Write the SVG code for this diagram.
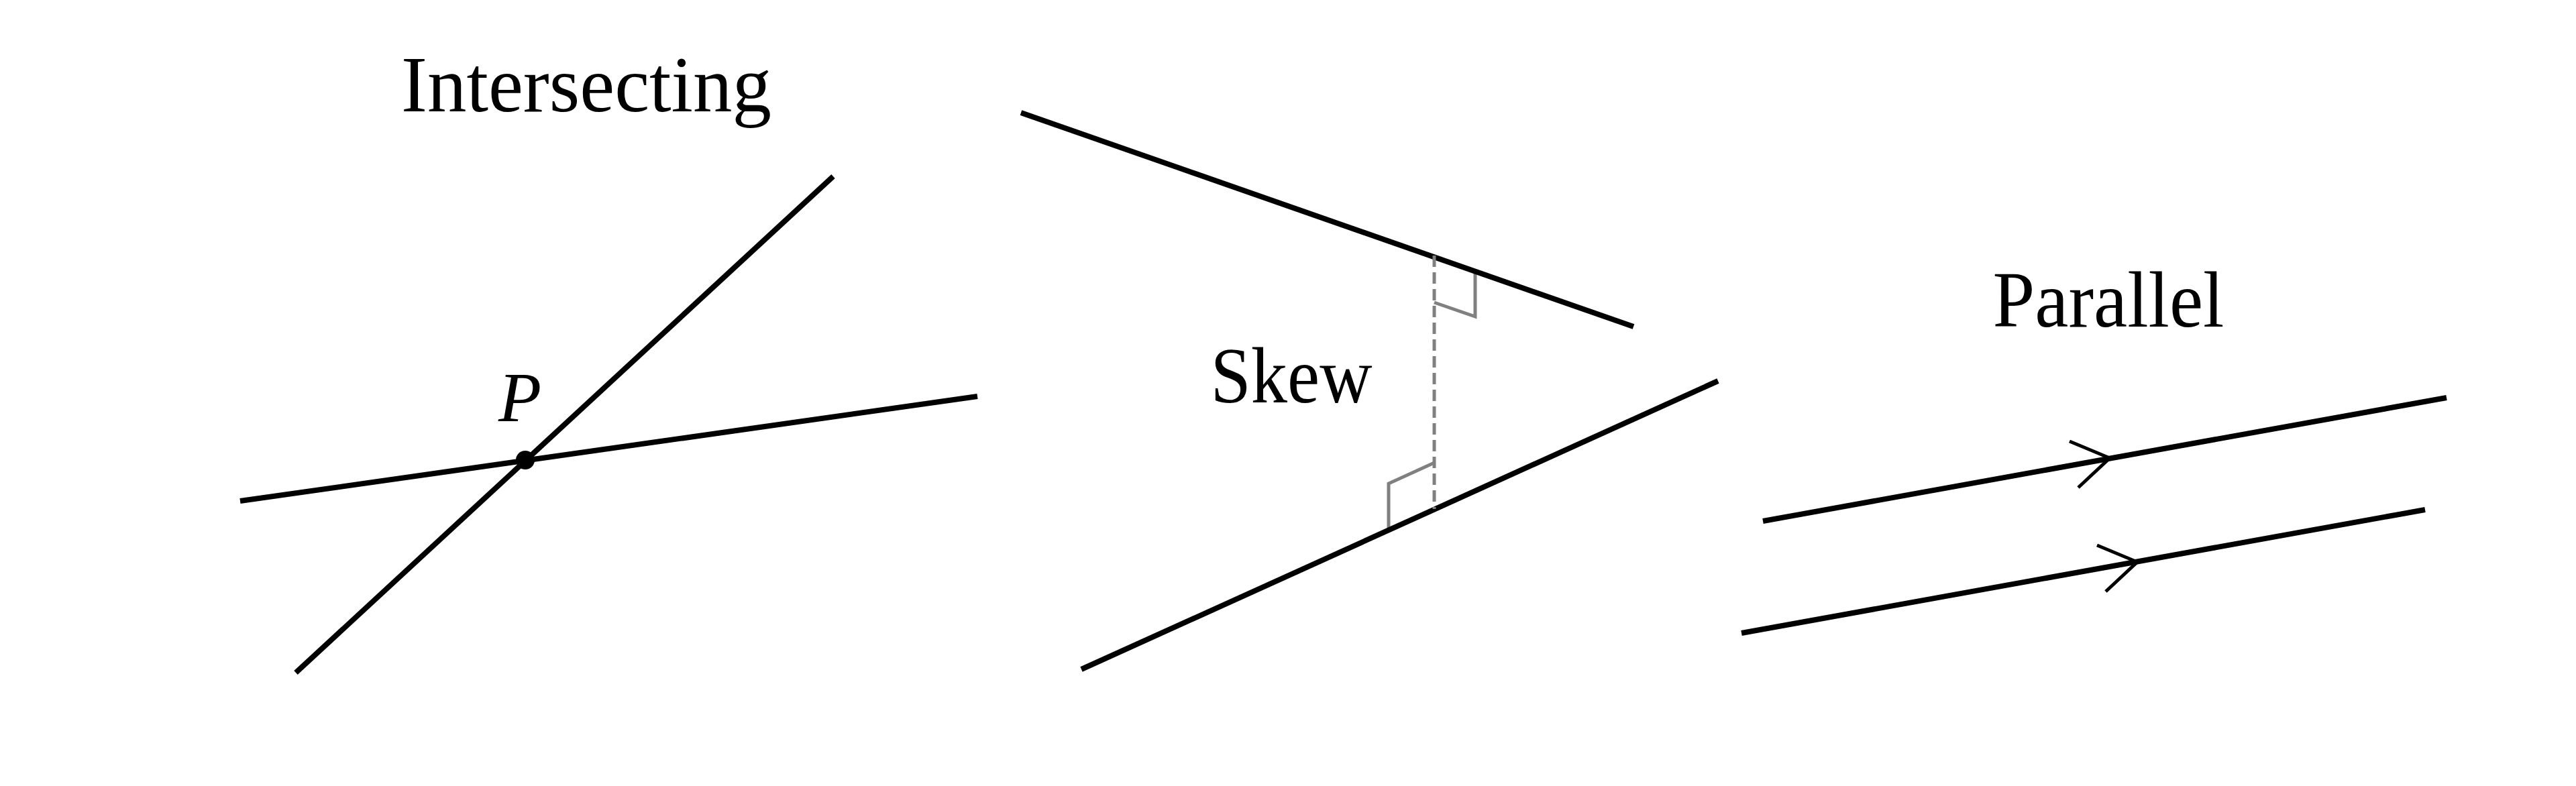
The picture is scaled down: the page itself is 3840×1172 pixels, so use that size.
<svg xmlns="http://www.w3.org/2000/svg" xmlns:xlink="http://www.w3.org/1999/xlink" width="3840" height="1172" viewBox="0 0 3840 1172">
<style>
.ln{stroke:#000;stroke-width:8;fill:none}
.gr{stroke:#808080;stroke-width:5;fill:none}
.dash{stroke:#808080;stroke-width:5;stroke-dasharray:17 8;fill:none}
.chev{stroke:#000;stroke-width:5;fill:none}
.lbl{font-family:"Liberation Serif","DejaVu Serif",serif;font-size:118px;fill:#000;text-anchor:middle}
.pt{font-family:"Liberation Serif","DejaVu Serif",serif;font-style:italic;font-size:105px;fill:#000;text-anchor:middle}
</style>
<defs>
<path id="chevron" d="M-60,-25 L0,0 L-47,44"/>
</defs>
<rect width="3840" height="1172" fill="#fff"/>
<g id="intersecting">
<text class="lbl" x="874" y="166" textLength="552" lengthAdjust="spacingAndGlyphs">Intersecting</text>
<text class="pt" x="775" y="628">P</text>
</g>
<g id="skew">
<text class="lbl" x="1925" y="600" textLength="241" lengthAdjust="spacingAndGlyphs">Skew</text>
<path class="gr" d="M2138,451 L2199,472 L2199,404"/>
<path class="gr" d="M2138,690 L2070,721 L2070,793"/>
</g>
<g id="parallel">
<text class="lbl" x="3143" y="487" textLength="345" lengthAdjust="spacingAndGlyphs">Parallel</text>
</g>
<g id="connectors">
<line class="ln" x1="441" y1="1003" x2="1242" y2="263"/>
<line class="ln" x1="358" y1="747" x2="1457" y2="591"/>
<circle cx="783" cy="686" r="14" fill="#000"/>
<line class="ln" x1="1522" y1="168" x2="2435" y2="487"/>
<line class="ln" x1="1612" y1="998" x2="2561" y2="568"/>
<line class="dash" x1="2138" y1="381" x2="2138" y2="759"/>
<line class="ln" x1="2628" y1="777" x2="3647" y2="593"/>
<line class="ln" x1="2596" y1="944" x2="3615" y2="760"/>
<use xlink:href="#chevron" class="chev" transform="translate(3145,683)"/>
<use xlink:href="#chevron" class="chev" transform="translate(3186,838)"/>
</g>
</svg>
